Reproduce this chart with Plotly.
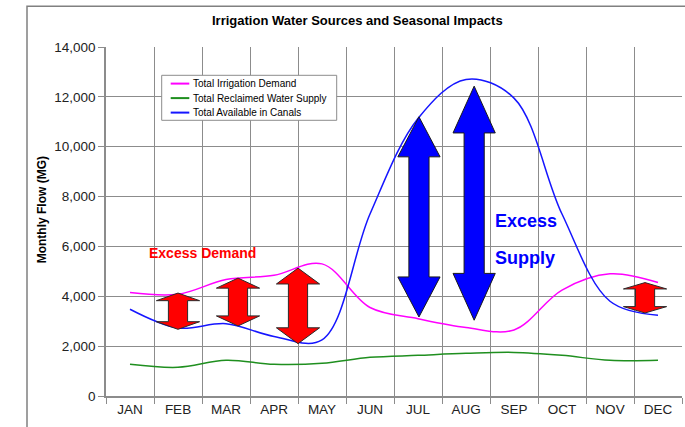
import plotly.graph_objects as go

months = ["JAN", "FEB", "MAR", "APR", "MAY", "JUN", "JUL", "AUG", "SEP", "OCT", "NOV", "DEC"]
demand = [4150, 4080, 4670, 4840, 5300, 3550, 3100, 2750, 2650, 4250, 4900, 4550]
reclaimed = [1270, 1150, 1430, 1270, 1310, 1550, 1630, 1710, 1750, 1630, 1430, 1430]
canals = [3480, 2730, 2900, 2390, 2250, 7300, 11130, 12700, 11950, 7300, 3800, 3240]
series_names = ["Total Irrigation Demand", "Total Reclaimed Water Supply", "Total Available in Canals"]
series_colors = ["#FF00FF", "#1F8F1F", "#1515FF"]

# Arrow annotations (month position, top value, bottom value)
red_arrow_pos = [1.0, 2.25, 3.5, 10.73]
red_arrow_top = [4130, 4730, 5130, 4550]
red_arrow_bot = [2675, 2810, 2100, 3330]
blue_arrow_pos = [6.02, 7.17]
blue_arrow_top = [11200, 12430]
blue_arrow_bot = [3170, 3040]

FONT = "Liberation Sans, Arial, sans-serif"
GRID = "#8c8c8c"

W, H = 685, 427
PL, PR, PT, PB = 106, 682, 46.7, 395.7  # plot area in pixels


def px(xp):
    return (xp - PL) / (PR - PL)


def py(yp):
    return (PB - yp) / (PB - PT)


x = list(range(len(months)))

fig = go.Figure()
for vals, name, col in zip([demand, reclaimed, canals], series_names, series_colors):
    fig.add_trace(go.Scatter(x=x, y=vals, mode="lines", name=name, showlegend=False,
                             hoverinfo="skip",
                             line=dict(color=col, width=1.5, shape="spline", smoothing=1)))


def double_arrow(xc, top, bot, head_hw=0.45, shaft_hw=0.2, head_frac=0.21):
    L = top - bot
    h = L * head_frac
    pts = [
        (xc, top),
        (xc + head_hw, top - h),
        (xc + shaft_hw, top - h),
        (xc + shaft_hw, bot + h),
        (xc + head_hw, bot + h),
        (xc, bot),
        (xc - head_hw, bot + h),
        (xc - shaft_hw, bot + h),
        (xc - shaft_hw, top - h),
        (xc - head_hw, top - h),
    ]
    return "M " + " L ".join(f"{a},{b}" for a, b in pts) + " Z"


shapes = []
for xc, t, b in zip(red_arrow_pos, red_arrow_top, red_arrow_bot):
    shapes.append(dict(type="path", xref="x", yref="y", path=double_arrow(xc, t, b),
                       fillcolor="#FF0000", line=dict(color="#2a2a2a", width=1), layer="above"))
for xc, t, b in zip(blue_arrow_pos, blue_arrow_top, blue_arrow_bot):
    shapes.append(dict(type="path", xref="x", yref="y",
                       path=double_arrow(xc, t, b, head_hw=0.44, shaft_hw=0.21, head_frac=0.2),
                       fillcolor="#0000FF", line=dict(color="#1a1a1a", width=1), layer="above"))

# outer chart border
shapes.append(dict(type="rect", xref="paper", yref="paper", x0=px(27), x1=px(W + 20),
                   y0=py(H + 20), y1=py(6),
                   line=dict(color="#808080", width=1.5), fillcolor="rgba(0,0,0,0)", layer="below"))

# custom legend box
shapes.append(dict(type="rect", xref="paper", yref="paper", x0=px(161.7), x1=px(336.7),
                   y0=py(120), y1=py(75), line=dict(color="#8c8c8c", width=1),
                   fillcolor="white", layer="above"))
legend_rows = [83.3, 97.8, 112.3]
annotations = []
for yrow, name, col in zip(legend_rows, series_names, series_colors):
    shapes.append(dict(type="line", xref="paper", yref="paper", x0=px(170.7), x1=px(189.3),
                       y0=py(yrow), y1=py(yrow), line=dict(color=col, width=2), layer="above"))
    annotations.append(dict(text=name, xref="paper", yref="paper", x=px(190.5), y=py(yrow),
                            xanchor="left", yanchor="middle", showarrow=False,
                            font=dict(family=FONT, size=10, color="#000000")))

annotations += [
    dict(text="<b>Irrigation Water Sources and Seasonal Impacts</b>", xref="paper", yref="paper",
         x=px(357), y=py(20), xanchor="center", yanchor="middle", showarrow=False,
         font=dict(family=FONT, size=13, color="#000000")),
    dict(text="<b>Monthly Flow (MG)</b>", xref="paper", yref="paper", x=px(42), y=py(210),
         textangle=-90, xanchor="center", yanchor="middle", showarrow=False,
         font=dict(family=FONT, size=12, color="#000000")),
    dict(text="<b>Excess Demand</b>", xref="x", yref="y", x=0.348, y=5735, xanchor="left",
         yanchor="middle", showarrow=False, font=dict(family=FONT, size=14, color="#FF0000")),
    dict(text="<b>Excess</b>", xref="x", yref="y", x=7.57, y=7020, xanchor="left",
         yanchor="middle", showarrow=False, font=dict(family=FONT, size=18, color="#0000FF")),
    dict(text="<b>Supply</b>", xref="x", yref="y", x=7.57, y=5520, xanchor="left",
         yanchor="middle", showarrow=False, font=dict(family=FONT, size=18, color="#0000FF")),
]

fig.update_layout(
    width=W, height=H,
    margin=dict(l=PL, r=W - PR, t=PT, b=H - PB),
    paper_bgcolor="white", plot_bgcolor="white",
    font=dict(family=FONT, size=13.5, color="#222222"),
    shapes=shapes, annotations=annotations,
    showlegend=False,
)

fig.update_xaxes(
    range=[-0.5, 11.5], tickvals=x, ticktext=months, ticks="", showgrid=False,
    showline=True, linecolor=GRID, linewidth=1.5, zeroline=False,
    tickfont=dict(family=FONT, size=13.5, color="#222222"),
    minor=dict(tickvals=[i - 0.5 for i in range(len(months) + 1)], showgrid=True,
               gridcolor=GRID, gridwidth=1, ticks="outside", ticklen=6, tickcolor=GRID),
)
fig.update_yaxes(
    range=[0, 14000], dtick=2000, tickformat=",", ticks="outside", ticklen=6, tickcolor=GRID,
    showgrid=True, gridcolor=GRID, gridwidth=1, showline=True, linecolor=GRID, linewidth=1.5,
    zeroline=False, tickfont=dict(family=FONT, size=13.5, color="#222222"),
)

fig.write_html("out.html", config={"displayModeBar": False},
               post_script="document.body.style.margin='0';")
